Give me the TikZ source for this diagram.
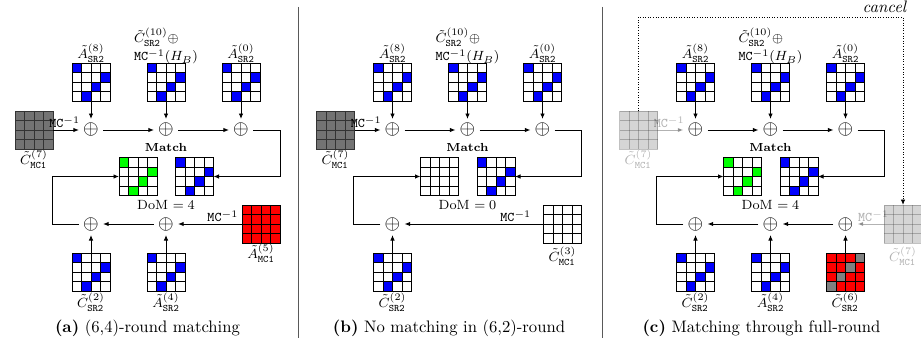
\documentclass[tikz,border=0pt]{standalone}
\usetikzlibrary{arrows.meta,calc}

\tikzset{
  cellline/.style={line width=0.55pt},
  gridbox/.style={inner sep=0pt,outer sep=0pt,minimum size=22.8pt},
  conn/.style={line width=0.55pt,-{Latex[length=3.3pt,width=2.7pt]}},
  xorop/.style={inner sep=0pt,outer sep=2.6pt,font=\fontsize{12}{12}\selectfont},
  lbl/.style={inner sep=1pt,font=\fontsize{8}{11}\selectfont},
  matchlbl/.style={inner sep=1pt,font=\fontsize{7}{8}\selectfont\bfseries},
  captext/.style={font=\fontsize{10}{12}\selectfont},
  panelsep/.style={black!65,line width=0.6pt},
  cancelpath/.style={line width=0.55pt,densely dotted,-{Latex[length=3.3pt,width=2.7pt]}},
  faded/.style={opacity=0.3},
  nocell/.style={opacity=0},
}

% 4x4 state grid: name, x, y, background, line colour, coloured cells (row/col/style)
\newcommand\stgrid[6]{%
  \node[gridbox] (#1) at (#2,#3) {};
  \fill[#4] ($(#2,#3)+(-19,-19)$) rectangle ($(#2,#3)+(19,19)$);
  \foreach \rr/\cc/\kk in {#6}{%
    \fill[\kk] ($(#2,#3)+(\cc*9.5-28.5,\rr*9.5-28.5)$) rectangle ++(9.5,9.5);}
  \foreach \ii in {1,2,3}{%
    \draw[#5,cellline] ($(#2,#3)+(\ii*9.5-19,-19)$) -- ++(0,38);
    \draw[#5,cellline] ($(#2,#3)+(-19,\ii*9.5-19)$) -- ++(38,0);}
  \draw[#5,cellline] ($(#2,#3)+(-19,-19)$) rectangle ($(#2,#3)+(19,19)$);
}
% grid with the shifted diagonal highlighted in one colour
\newcommand\diaggrid[4]{\stgrid{#1}{#2}{#3}{white}{black}{1/1/#4,2/4/#4,3/3/#4,4/2/#4}}
% fully gray grid (known state)
\newcommand\graygrid[3]{\stgrid{#1}{#2}{#3}{black!55}{black!80}{1/1/nocell}}

% upper half shared by the three sub-figures
\newcommand\upperhalf[1]{%
  \diaggrid{#1T1}{91}{82}{blue}
  \diaggrid{#1T2}{166}{82}{blue}
  \diaggrid{#1T3}{241}{82}{blue}
  \node[lbl] (#1t1) at (91,53) {$\tilde{A}^{(8)}_{\mathtt{SR2}}$};
  \node[lbl,align=left] (#1t2) at (166,46) {$\tilde{C}^{(10)}_{\mathtt{SR2}}\oplus$\\[0pt]$\mathtt{MC}^{-1}(H_B)$};
  \node[lbl] (#1t3) at (241,53) {$\tilde{A}^{(0)}_{\mathtt{SR2}}$};
  \node[xorop] (#1X1) at (91,130) {$\oplus$};
  \node[xorop] (#1X2) at (166,130) {$\oplus$};
  \node[xorop] (#1X3) at (241,130) {$\oplus$};
  \draw[conn] (#1T1) -- (#1X1);
  \draw[conn] (#1T2) -- (#1X2);
  \draw[conn] (#1T3) -- (#1X3);
  \draw[conn] (#1X1) -- (#1X2);
  \draw[conn] (#1X2) -- (#1X3);
  \node[matchlbl] (#1m) at (166,147) {Match};
  \diaggrid{#1M2}{194.5}{176.5}{blue}
  \coordinate (#1R) at (280,176.5);
  \draw[conn] (#1X3) -| (#1R) -- (#1M2);
  \coordinate (#1L) at (52,176.5);
}

\begin{document}
\begin{tikzpicture}[x=0.6pt,y=-0.6pt]
\useasboundingbox (0,0) rectangle (921,344);

% separators between the sub-figures
\draw[panelsep] (298,7) -- (298,338);
\draw[panelsep] (602,7) -- (602,338);

% ---------------- (a) ----------------
\begin{scope}
  \upperhalf{a}
  \graygrid{aG}{34}{130}
  \node[lbl] (aGl) at (34,159) {$\tilde{C}^{(7)}_{\mathtt{MC1}}$};
  \draw[conn] (aG) -- node[lbl,above,pos=0.45] {$\mathtt{MC}^{-1}$} (aX1);
  \diaggrid{aM1}{138}{176.5}{green}
  \node[lbl] (aD) at (166,205) {DoM $=4$};
  \node[xorop] (aY1) at (91,224) {$\oplus$};
  \node[xorop] (aY2) at (166,224) {$\oplus$};
  \stgrid{aK}{261}{224}{red}{black}{1/1/nocell}
  \node[lbl] (aKl) at (261,253) {$\tilde{A}^{(5)}_{\mathtt{MC1}}$};
  \draw[conn] (aK) -- node[lbl,above,pos=0.3] {$\mathtt{MC}^{-1}$} (aY2);
  \draw[conn] (aY2) -- (aY1);
  \draw[conn] (aY1) -| (aL) -- (aM1);
  \diaggrid{aB1}{91}{272}{blue}
  \diaggrid{aB2}{166}{272}{blue}
  \draw[conn] (aB1) -- (aY1);
  \draw[conn] (aB2) -- (aY2);
  \node[lbl] (aB1l) at (91,302) {$\tilde{C}^{(2)}_{\mathtt{SR2}}$};
  \node[lbl] (aB2l) at (166,302) {$\tilde{A}^{(4)}_{\mathtt{SR2}}$};
  \node[captext] (acap) at (147.5,328) {\textbf{(a)} (6,4)-round matching};
\end{scope}

% ---------------- (b) ----------------
\begin{scope}[shift={(301.5,0)}]
  \upperhalf{b}
  \graygrid{bG}{34}{130}
  \node[lbl] (bGl) at (34,159) {$\tilde{C}^{(7)}_{\mathtt{MC1}}$};
  \draw[conn] (bG) -- node[lbl,above,pos=0.45] {$\mathtt{MC}^{-1}$} (bX1);
  \stgrid{bM1}{138}{176.5}{white}{black}{1/1/nocell}
  \node[lbl] (bD) at (166,205) {DoM $=0$};
  \node[xorop] (bY1) at (91,224) {$\oplus$};
  \stgrid{bK}{261}{224}{white}{black}{1/1/nocell}
  \node[lbl] (bKl) at (261,256) {$\tilde{C}^{(3)}_{\mathtt{MC1}}$};
  \draw[conn] (bK) -- node[lbl,above,pos=0.2] {$\mathtt{MC}^{-1}$} (bY1);
  \draw[conn] (bY1) -| (bL) -- (bM1);
  \diaggrid{bB1}{91}{272}{blue}
  \draw[conn] (bB1) -- (bY1);
  \node[lbl] (bB1l) at (91,302) {$\tilde{C}^{(2)}_{\mathtt{SR2}}$};
  \node[captext] (bcap) at (147.5,328) {\textbf{(b)} No matching in (6,2)-round};
\end{scope}

% ---------------- (c) ----------------
\begin{scope}[shift={(604.5,0)}]
  \upperhalf{c}
  \begin{scope}[faded]
    \graygrid{cG}{34}{130}
    \node[lbl] (cGl) at (34,159) {$\tilde{C}^{(7)}_{\mathtt{MC1}}$};
    \draw[conn] (cG) -- node[lbl,above,pos=0.45] {$\mathtt{MC}^{-1}$} (cX1);
    \graygrid{cH}{298.5}{224}
    \node[lbl] (cHl) at (298.5,256) {$\tilde{C}^{(7)}_{\mathtt{MC1}}$};
  \end{scope}
  \diaggrid{cM1}{138}{176.5}{green}
  \node[lbl] (cD) at (166,205) {DoM $=4$};
  \node[xorop] (cY1) at (91,224) {$\oplus$};
  \node[xorop] (cY2) at (166,224) {$\oplus$};
  \node[xorop] (cY3) at (241,224) {$\oplus$};
  \begin{scope}[faded]
    \draw[conn] (cH) -- node[lbl,above,pos=0.4] {$\mathtt{MC}^{-1}$} (cY3);
  \end{scope}
  \draw[conn] (cY3) -- (cY2);
  \draw[conn] (cY2) -- (cY1);
  \draw[conn] (cY1) -| (cL) -- (cM1);
  \diaggrid{cB1}{91}{272}{blue}
  \diaggrid{cB2}{166}{272}{blue}
  \stgrid{cB3}{241}{272}{red}{black}{1/4/black!50,2/3/black!50,3/2/black!50,4/1/black!50}
  \draw[conn] (cB1) -- (cY1);
  \draw[conn] (cB2) -- (cY2);
  \draw[conn] (cB3) -- (cY3);
  \node[lbl] (cB1l) at (91,302) {$\tilde{C}^{(2)}_{\mathtt{SR2}}$};
  \node[lbl] (cB2l) at (166,302) {$\tilde{A}^{(4)}_{\mathtt{SR2}}$};
  \node[lbl] (cB3l) at (241,302) {$\tilde{C}^{(6)}_{\mathtt{SR2}}$};
  % the full-round loop cancels out
  \coordinate (cU1) at (34,17);
  \coordinate (cU2) at (298.5,17);
  \draw[cancelpath] (cG.north) -- (cU1) -- (cU2) -- (cH.north);
  \node[font=\fontsize{10}{12}\selectfont\itshape,anchor=east,inner sep=0pt] (ccancel) at (302,7) {cancel};
  \node[captext] (ccap) at (157,328) {\textbf{(c)} Matching through full-round};
\end{scope}
\end{tikzpicture}
\end{document}
